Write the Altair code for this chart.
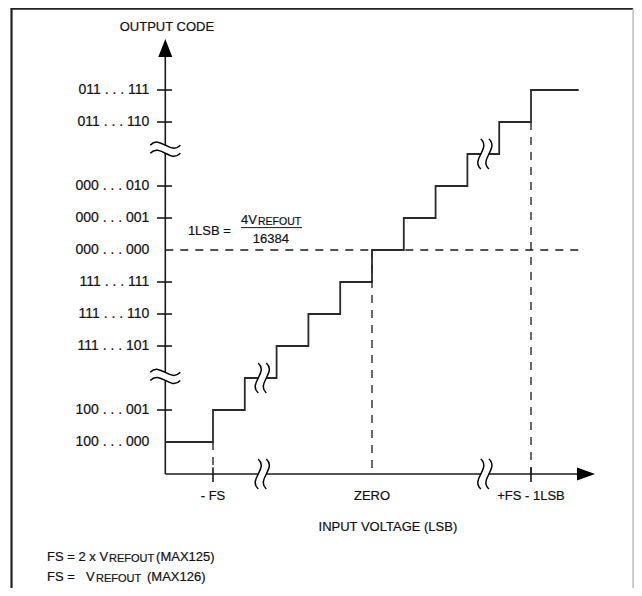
import altair as alt
import pandas as pd

# ---------------- data ----------------
code_labels = ["011 . . . 111", "011 . . . 110", "000 . . . 010", "000 . . . 001",
               "000 . . . 000", "111 . . . 111", "111 . . . 110", "111 . . . 101",
               "100 . . . 001", "100 . . . 000"]
code_values = [5, 4, 2, 1, 0, -1, -2, -3, -5, -6]
tick_codes = [5, 4, 2, 1, -1, -2, -3, -5]

step_x = [-6.5, -5, -4, -3, -2, -1, 0, 1, 2, 3, 4, 5, 6.5]
step_code = [-6, -5, -4, -3, -2, -1, 0, 1, 2, 3, 4, 5, 5]

x_tick_labels = ["- FS", "ZERO", "+FS - 1LSB"]
x_tick_values = [-5, 0, 5]

# --------------- layout helpers ---------------
FONT = "Liberation Sans, Arial, Helvetica, sans-serif"
INK = "#1a1a1a"
AX0 = -6.5   # code axis position on input axis
AY0 = -7.0   # input axis position on code axis
XS = alt.Scale(domain=[-11.4465, 8.2390], nice=False, zero=False)
YS = alt.Scale(domain=[-10.5625, 7.5625], nice=False, zero=False)


def X(f="x"):
    return alt.X(f"{f}:Q", scale=XS, axis=None)


def Y(f="y"):
    return alt.Y(f"{f}:Q", scale=YS, axis=None)


def segs(rows):
    return pd.DataFrame(rows, columns=["x", "y", "x2", "y2"])


# frame
frame = segs([
    [-11.336, 7.56, -11.336, -10.6],
    [-11.336, 7.54, 8.21, 7.54],
])
frame_right = segs([[8.21, 7.54, 8.21, -10.6]])

# solid axis lines and ticks
solid_rows = [
    [AX0, AY0, AX0, 6.03],
    [AX0, AY0, 6.45, AY0],
]
for c in tick_codes:
    solid_rows.append([-6.76, c, -6.29, c])
for v in (x_tick_values[0], x_tick_values[2]):
    solid_rows.append([v, -6.8, v, -7.25])
solid = segs(solid_rows)

# dashed guide lines
dashed = segs([
    [AX0, 0, 6.5, 0],
    [0, 0, 0, AY0],
    [5, 4, 5, -7.2],
    [-5, -6, -5, -6.8],
])

fraction_bar = segs([[-4.12, 0.70, -2.20, 0.70]])

steps = pd.DataFrame({"x": step_x, "y": step_code})


def rule_layer(df, color=INK, width=1.5, dash=None):
    kw = dict(color=color, strokeWidth=width)
    if dash:
        kw["strokeDash"] = dash
    return alt.Chart(df).mark_rule(**kw).encode(
        x=X("x"), y=Y("y"), x2="x2:Q", y2="y2:Q")


layers = []
layers.append(rule_layer(frame, color="#222222", width=2.2))
layers.append(rule_layer(frame_right, color="#bbbbbb", width=1.5))
layers.append(rule_layer(dashed, width=1.3, dash=[8, 7]))
layers.append(rule_layer(solid, width=1.6))
layers.append(rule_layer(fraction_bar, width=1.0))

layers.append(alt.Chart(steps).mark_line(interpolate="step-after", color="#2a2a2a",
                                         strokeWidth=1.8).encode(x=X(), y=Y()))

# arrowheads
arrow_up = pd.DataFrame({"x": [AX0], "y": [6.3125]})
arrow_right = pd.DataFrame({"x": [6.73], "y": [AY0]})
layers.append(alt.Chart(arrow_up).mark_point(shape="M0,-1L0.78,1L-0.78,1Z", filled=True,
                                             size=324, color="black", opacity=1,
                                             strokeWidth=0).encode(x=X(), y=Y()))
layers.append(alt.Chart(arrow_right).mark_point(shape="M1,0L-1,-0.72L-1,0.72Z", filled=True,
                                                size=324, color="black", opacity=1,
                                                strokeWidth=0).encode(x=X(), y=Y()))

# break symbols
WAVE = ("M-1,-0.27 C-0.35,-0.97 0.35,0.43 1,-0.27 "
        "M-1,0.27 C-0.35,-0.43 0.35,0.97 1,0.27")
PATCH = "M-1.05,-0.25L1.05,-0.25L1.05,0.25L-1.05,0.25Z"
hbreaks = pd.DataFrame({"x": [AX0, AX0], "y": [3.15, -3.95]})
vbreaks = pd.DataFrame({"x": [-3.45, 3.55, -3.45, 3.55], "y": [AY0, AY0, -4, 3]})
for df, ang in ((hbreaks, 0), (vbreaks, 90)):
    layers.append(alt.Chart(df).mark_point(shape=PATCH, filled=True, size=900, color="white",
                                           opacity=1, strokeWidth=0, angle=ang)
                  .encode(x=X(), y=Y()))
    layers.append(alt.Chart(df).mark_point(shape=WAVE, filled=False, size=900, color="black",
                                           opacity=1, strokeWidth=1.5, angle=ang)
                  .encode(x=X(), y=Y()))

# texts
def text_layer(df, align, size=13):
    return alt.Chart(df).mark_text(align=align, baseline="middle", font=FONT,
                                   color="#111111", fontSize=size,
                                   stroke="#111111", strokeWidth=0.2).encode(
        x=X(), y=Y(), text="t:N")


ylab = pd.DataFrame({"x": [-7.0] * len(code_values), "y": code_values, "t": code_labels})
layers.append(text_layer(ylab, "right", 14))

xlab = pd.DataFrame({"x": x_tick_values, "y": [-7.7] * 3, "t": x_tick_labels})
layers.append(text_layer(xlab, "center"))

center_txt = pd.DataFrame({
    "x": [-6.45, 0.5, -3.18],
    "y": [6.97, -8.66, 0.34],
    "t": ["OUTPUT CODE", "INPUT VOLTAGE (LSB)", "16384"],
})
layers.append(text_layer(center_txt, "center"))

left_txt = pd.DataFrame({
    "x": [-5.79, -4.12, -10.22, -6.79, -10.22, -8.99, -7.075],
    "y": [0.59, 0.94, -9.59, -9.59, -10.22, -10.22, -10.22],
    "t": ["1LSB =", "4V", "FS = 2 x V", "(MAX125)", "FS =", "V", "(MAX126)"],
})
layers.append(text_layer(left_txt, "left"))

frac_sub = pd.DataFrame({"x": [-3.585], "y": [0.87], "t": ["REFOUT"]})
layers.append(text_layer(frac_sub, "left", 10.5))

foot_sub = pd.DataFrame({
    "x": [-8.27, -8.68],
    "y": [-9.66, -10.29],
    "t": ["REFOUT", "REFOUT"],
})
layers.append(text_layer(foot_sub, "left", 11))

chart = alt.layer(*layers).properties(
    width=626, height=580, padding=0, background="white",
    autosize=alt.AutoSizeParams(type="none"),
).configure_view(stroke=None)

chart.save("out.html", embed_options={"renderer": "svg", "actions": False})
